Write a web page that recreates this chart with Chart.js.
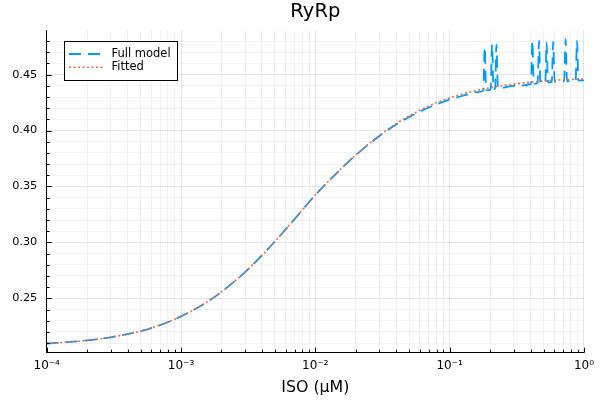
<!DOCTYPE html>
<html>
<head>
<meta charset="utf-8">
<script src="https://cdn.jsdelivr.net/npm/chart.js@4/dist/chart.umd.min.js"></script>
<style>
  html, body { margin: 0; padding: 0; background: #fff; }
  #wrap { width: 600px; height: 400px; }
</style>
</head>
<body>
<div id="wrap"><canvas id="chart" width="600" height="400"></canvas></div>
<script>
// ISO concentration (µM) and RyRp for the full model (with the solver spikes near 0.2 and 0.4-1)
const fullX = [1e-4, 2e-4, 3e-4, 5e-4, 7e-4, 1e-3, 1.5e-3, 2e-3, 3e-3, 4e-3, 5e-3, 7e-3,
  1e-2, 1.5e-2, 2e-2, 3e-2, 4e-2, 5e-2, 7e-2, 0.1, 0.13, 0.16,
  0.178, 0.1825, 0.187, 0.202, 0.207, 0.212, 0.218, 0.223, 0.229, 0.3,
  0.403, 0.413, 0.423, 0.452, 0.463, 0.474, 0.515, 0.527, 0.540,
  0.576, 0.590, 0.605, 0.712, 0.730, 0.748, 0.866, 0.888, 0.910, 1.0];
const fullY = [0.2096, 0.2124, 0.2152, 0.2207, 0.2261, 0.2339, 0.2454, 0.2557, 0.2735, 0.2883, 0.3008, 0.3208,
  0.3424, 0.3640, 0.3780, 0.3952, 0.4054, 0.4121, 0.4206, 0.4276, 0.4316, 0.4343,
  0.4357, 0.4745, 0.4360, 0.4367, 0.4769, 0.4370, 0.4373, 0.4769, 0.4376, 0.4399,
  0.4417, 0.4802, 0.4419, 0.4423, 0.4802, 0.4425, 0.4429, 0.4787, 0.4431,
  0.4434, 0.4794, 0.4436, 0.4440, 0.4817, 0.4441, 0.4446, 0.4802, 0.4447, 0.4449];

// fitted curve
const fitX = [1e-4, 2e-4, 3e-4, 5e-4, 7e-4, 1e-3, 1.5e-3, 2e-3, 3e-3, 4e-3, 5e-3, 7e-3,
  1e-2, 1.5e-2, 2e-2, 3e-2, 4e-2, 5e-2, 7e-2, 0.1, 0.15, 0.2, 0.3, 0.5, 0.7, 1.0];
const fitY = [0.2096, 0.2124, 0.2152, 0.2207, 0.2261, 0.2339, 0.2454, 0.2557, 0.2735, 0.2883, 0.3008, 0.3208,
  0.3424, 0.3641, 0.3782, 0.3957, 0.4062, 0.4131, 0.4219, 0.4292, 0.4352, 0.4383, 0.4415, 0.4443, 0.4454, 0.4461];

// axes
const xDecades = [1e-4, 1e-3, 1e-2, 1e-1, 1];
const xDecadeLabels = ["10\u207B\u2074", "10\u207B\u00B3", "10\u207B\u00B2", "10\u207B\u00B9", "10\u2070"];
const xMinorSteps = [2, 3, 4, 5, 6, 7, 8, 9];
const yMajorTicks = [0.25, 0.30, 0.35, 0.40, 0.45];
const yMinorTicks = [0.21, 0.22, 0.23, 0.24, 0.26, 0.27, 0.28, 0.29, 0.31, 0.32, 0.33, 0.34,
  0.36, 0.37, 0.38, 0.39, 0.41, 0.42, 0.43, 0.44, 0.46, 0.47, 0.48];
const yMin = 0.2014, yMax = 0.4899;

const FONT = "'DejaVu Sans', sans-serif";
const BLUE = "#009AFA", ORANGE = "#E36F47";

function isDecade(v) {
  return xDecades.some(d => Math.abs(v - d) / d < 1e-6);
}
function isYMajor(v) {
  return yMajorTicks.some(t => Math.abs(v - t) < 1e-6);
}

const xTickValues = [];
xDecades.forEach((d, i) => {
  xTickValues.push(d);
  if (i < xDecades.length - 1) xMinorSteps.forEach(m => xTickValues.push(d * m));
});
const yTickValues = yMajorTicks.concat(yMinorTicks).sort((a, b) => a - b);

// inner tick marks + legend box inside the plot, Plots.jl style
const frameAndLegend = {
  id: "frameAndLegend",
  afterDraw(chart) {
    const { ctx, chartArea: a, scales: { x, y } } = chart;
    ctx.save();
    ctx.strokeStyle = "#000";
    ctx.lineWidth = 1;
    ctx.beginPath();
    x.ticks.forEach(t => {
      const px = Math.round(x.getPixelForValue(t.value)) + 0.5;
      const len = isDecade(t.value) ? 5 : 3;
      ctx.moveTo(px, a.bottom);
      ctx.lineTo(px, a.bottom - len);
    });
    y.ticks.forEach(t => {
      const py = Math.round(y.getPixelForValue(t.value)) + 0.5;
      const len = isYMajor(t.value) ? 5 : 3;
      ctx.moveTo(a.left, py);
      ctx.lineTo(a.left + len, py);
    });
    ctx.stroke();

    // legend
    const bx = 64.5, by = 41.5, bw = 113, bh = 39;
    ctx.fillStyle = "#fff";
    ctx.fillRect(bx, by, bw, bh);
    ctx.strokeRect(bx, by, bw, bh);
    const rows = [0, 1].map(i => chart.data.datasets.find(d => d.legendRow === i));
    rows.forEach((ds, i) => {
      const ry = 54 + i * 13.3;
      ctx.beginPath();
      ctx.strokeStyle = ds.borderColor;
      ctx.lineWidth = ds.borderWidth;
      ctx.setLineDash(ds.borderDash);
      ctx.moveTo(69, ry);
      ctx.lineTo(103, ry);
      ctx.stroke();
      ctx.setLineDash([]);
      ctx.fillStyle = "#000";
      ctx.font = "11.5px " + FONT;
      ctx.textBaseline = "middle";
      ctx.textAlign = "left";
      ctx.fillText(ds.label, 111.5, ry);
    });
    ctx.restore();
  }
};

new Chart(document.getElementById("chart"), {
  type: "line",
  data: {
    datasets: [
      {
        label: "Fitted",
        legendRow: 1,
        order: 0,
        data: fitX.map((v, i) => ({ x: v, y: fitY[i] })),
        borderColor: ORANGE,
        borderWidth: 1.6,
        borderDash: [2, 2.5],
        pointRadius: 0,
        cubicInterpolationMode: "monotone",
        fill: false
      },
      {
        label: "Full model",
        legendRow: 0,
        order: 1,
        data: fullX.map((v, i) => ({ x: v, y: fullY[i] })),
        borderColor: BLUE,
        borderWidth: 1.8,
        borderDash: [12, 7],
        pointRadius: 0,
        cubicInterpolationMode: "monotone",
        fill: false
      }
    ]
  },
  options: {
    responsive: false,
    animation: false,
    layout: { padding: { left: 0, right: 11.7, top: 0, bottom: 0 } },
    plugins: {
      legend: { display: false },
      tooltip: { enabled: false },
      title: {
        display: true,
        text: "RyRp",
        fullSize: false,
        color: "#000",
        font: { family: FONT, size: 19.5, weight: "normal" },
        padding: { top: 0, bottom: 6.6 }
      }
    },
    scales: {
      x: {
        type: "logarithmic",
        min: 1e-4,
        max: 1,
        afterBuildTicks: s => { s.ticks = xTickValues.map(v => ({ value: v })); },
        afterFit: s => { s.height = 47.3; },
        border: { display: true, color: "#000", width: 1 },
        grid: {
          drawTicks: false,
          color: c => (c.tick && isDecade(c.tick.value)) ? "rgba(0,0,0,0.1)" : "rgba(0,0,0,0.05)"
        },
        ticks: {
          autoSkip: false,
          maxRotation: 0,
          minRotation: 0,
          padding: 6,
          color: "#000",
          font: { family: FONT, size: 12 },
          callback: v => {
            const i = xDecades.findIndex(d => Math.abs(v - d) / d < 1e-6);
            return i >= 0 ? xDecadeLabels[i] : "";
          }
        },
        title: {
          display: true,
          text: "ISO (\u03BCM)",
          color: "#000",
          font: { family: FONT, size: 15.8 },
          padding: { top: 0, bottom: 3 }
        }
      },
      y: {
        type: "linear",
        min: yMin,
        max: yMax,
        afterBuildTicks: s => { s.ticks = yTickValues.map(v => ({ value: v })); },
        afterFit: s => { s.width = 46.7; },
        border: { display: true, color: "#000", width: 1 },
        grid: {
          drawTicks: false,
          color: c => (c.tick && isYMajor(c.tick.value)) ? "rgba(0,0,0,0.1)" : "rgba(0,0,0,0.05)"
        },
        ticks: {
          autoSkip: false,
          padding: 9.4,
          color: "#000",
          font: { family: FONT, size: 11.3 },
          callback: v => isYMajor(v) ? v.toFixed(2) : ""
        }
      }
    }
  },
  plugins: [frameAndLegend]
});
</script>
</body>
</html>
